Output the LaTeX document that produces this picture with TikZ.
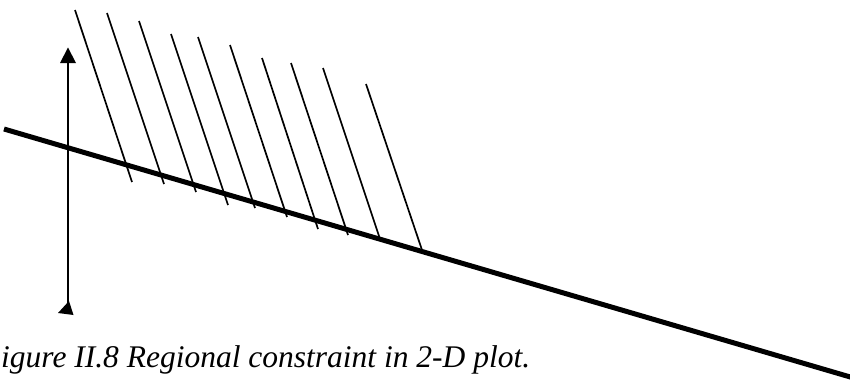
\documentclass[tikz,border=0pt]{standalone}
\usepackage{fontspec}
\setmainfont{Liberation Serif}
\usetikzlibrary{arrows.meta}
\begin{document}
\begin{tikzpicture}[x=1pt,y=-1pt,
  hatch/.style={line width=1.7pt},
  constraint/.style={line width=5pt},
  axis/.style={line width=2.3pt},
  tri/.style={fill=black}]
\useasboundingbox (0,0) rectangle (850,383);
% constraint line
\coordinate (L1) at (4,129);
\coordinate (L2) at (852,377.5);
\draw[constraint] (L1) -- (L2);
% vertical axis
\coordinate (A1) at (68,62);
\coordinate (A2) at (68,313);
\draw[axis] (A1) -- (A2);
\coordinate (T1) at (68,47.5);
\coordinate (T2) at (60,63);
\coordinate (T3) at (76,63);
\fill[tri] (T1) -- (T2) -- (T3) -- cycle;
\coordinate (B1) at (69,301);
\coordinate (B2) at (58,313);
\coordinate (B3) at (73.5,315);
\fill[tri] (B1) -- (B2) -- (B3) -- cycle;
% hatching
\foreach \i/\xa/\ya/\xb/\yb in {1/75/10/132/182, 2/107/13/164/184, 3/139/21/196/192,
  4/171/34/228/205, 5/198/37/255/208, 6/230/45/287/217, 7/262/58/318/229,
  8/291/63/348/235, 9/323/68/380/239, 10/366/84/422/250}{
  \coordinate (h\i a) at (\xa,\ya);
  \coordinate (h\i b) at (\xb,\yb);
  \draw[hatch] (h\i a) -- (h\i b);
}
% caption
\node[anchor=base west, inner sep=0pt, font=\fontsize{31.5}{36}\selectfont\itshape] (cap) at (1,367) {igure II.8 Regional constraint in 2-D plot.};
\end{tikzpicture}
\end{document}
